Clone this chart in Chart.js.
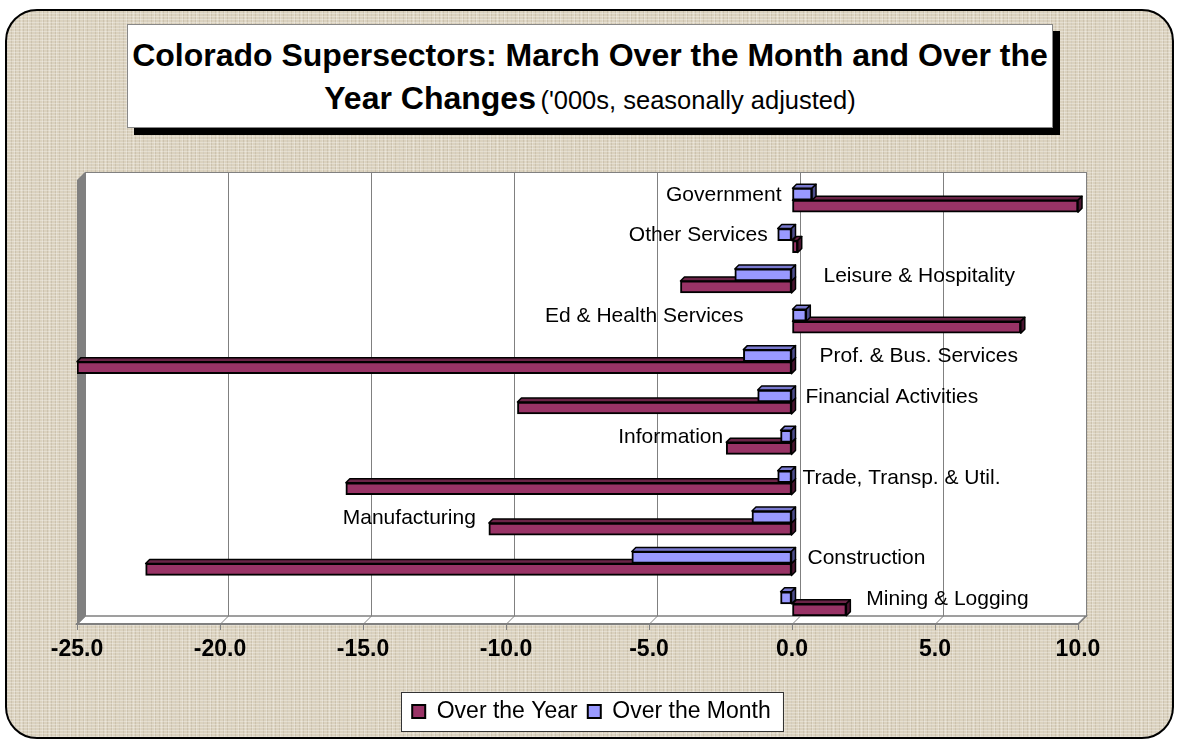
<!DOCTYPE html>
<html>
<head>
<meta charset="utf-8">
<script src="https://cdn.jsdelivr.net/npm/chart.js@4"></script>
<style>
  html, body { margin: 0; padding: 0; background: #fff; }
  body { width: 1177px; height: 739px; position: relative; overflow: hidden; font-family: "Liberation Sans", Arial, sans-serif; }
  #frame {
    position: absolute; left: 5px; top: 9px; width: 1165px; height: 726px;
    border: 2px solid #000; border-radius: 32px;
    background-color: #dbd2bf;
    background-image:
      repeating-linear-gradient(0deg, rgba(255,255,255,0.3) 0 1px, transparent 1px 3px),
      repeating-linear-gradient(90deg, rgba(110,95,70,0.14) 0 1px, transparent 1px 4px),
      repeating-linear-gradient(90deg, rgba(255,255,255,0.22) 0 1px, transparent 1px 7px);
  }
  #title {
    position: absolute; left: 127px; top: 24px; width: 924px; height: 102px;
    background: #fff; border: 1px solid #888;
    box-shadow: 7px 7px 0 #000;
    text-align: center; color: #000;
  }
  #title .l1 { position: absolute; left: 0; right: 0; top: 12px; font-weight: bold; font-size: 32px; white-space: nowrap; }
  #title .l2 { position: absolute; left: 0; right: 0; top: 55px; white-space: nowrap; }
  #title .l2 b { font-size: 32px; }
  #title .l2 span { font-size: 25.5px; }
  canvas { position: absolute; left: 0; top: 0; }
</style>
</head>
<body>
<div id="frame"></div>
<div id="title">
  <div class="l1">Colorado Supersectors: March Over the Month and Over the</div>
  <div class="l2"><b>Year Changes</b> <span>('000s, seasonally adjusted)</span></div>
</div>
<canvas id="chart" width="1177" height="739"></canvas>
<script>
// values, thousands of jobs
const categories = ['Government', 'Other Services', 'Leisure & Hospitality', 'Ed & Health Services',
    'Prof. & Bus. Services', 'Financial Activities', 'Information', 'Trade, Transp. & Util.',
    'Manufacturing', 'Construction', 'Mining & Logging'];
const overTheYear = [10.0, 0.2, -3.9, 8.0, -25.0, -9.6, -2.3, -15.6, -10.6, -22.6, 1.9];
const overTheMonth = [0.7, -0.5, -2.0, 0.5, -1.7, -1.2, -0.4, -0.5, -1.4, -5.6, -0.4];
const xTicks = [-25, -20, -15, -10, -5, 0, 5, 10];

// where each category name sits next to its bars (layout only)
const labelSide = ['left', 'left', 'right', 'left', 'right', 'right', 'left', 'right', 'left', 'right', 'right'];
const labelGap = [11, 10, 32, 49, 28, 14, 3, 11, 13, 16, 20];

const DEPTH = 8;      // wall depth
const BAR_DEPTH = 4;  // bar depth

const wallsPlugin = {
    id: 'walls',
    beforeDraw(chart) {
        const { ctx, chartArea: a, scales: { x } } = chart;
        ctx.save();
        // back wall
        ctx.fillStyle = '#fff';
        ctx.fillRect(a.left + DEPTH, a.top - DEPTH, a.right - a.left, a.bottom - a.top);
        ctx.strokeStyle = '#808080';
        ctx.lineWidth = 1;
        ctx.strokeRect(a.left + DEPTH + 0.5, a.top - DEPTH + 0.5, a.right - a.left, a.bottom - a.top);
        // floor
        ctx.beginPath();
        ctx.moveTo(a.left, a.bottom);
        ctx.lineTo(a.left + DEPTH, a.bottom - DEPTH);
        ctx.lineTo(a.right + DEPTH, a.bottom - DEPTH);
        ctx.lineTo(a.right, a.bottom);
        ctx.closePath();
        ctx.fillStyle = '#fff';
        ctx.fill();
        ctx.strokeStyle = '#808080';
        ctx.lineWidth = 1.5;
        ctx.stroke();
        // left wall
        ctx.beginPath();
        ctx.moveTo(a.left, a.top);
        ctx.lineTo(a.left + DEPTH, a.top - DEPTH);
        ctx.lineTo(a.left + DEPTH, a.bottom - DEPTH);
        ctx.lineTo(a.left, a.bottom);
        ctx.closePath();
        ctx.fillStyle = '#808080';
        ctx.fill();
        // gridlines on the back wall + slanted link to the front ticks
        ctx.strokeStyle = '#808080';
        ctx.lineWidth = 1;
        xTicks.forEach(v => {
            const px = Math.round(x.getPixelForValue(v)) + 0.5;
            ctx.beginPath();
            ctx.moveTo(px + DEPTH, a.top - DEPTH);
            ctx.lineTo(px + DEPTH, a.bottom - DEPTH);
            ctx.lineTo(px, a.bottom);
            ctx.stroke();
        });
        ctx.restore();
    }
};

const barDepthPlugin = {
    id: 'barDepth',
    beforeDatasetsDraw(chart) {
        const ctx = chart.ctx;
        const tops = ['#7a7ad0', '#6b2447'];
        const sides = ['#4d4d8c', '#4a1530'];
        ctx.save();
        ctx.strokeStyle = '#000';
        ctx.lineWidth = 1.5;
        ctx.lineJoin = 'round';
        for (let d = chart.data.datasets.length - 1; d >= 0; d--) {
            chart.getDatasetMeta(d).data.forEach(el => {
                const p = el.getProps(['x', 'y', 'base', 'height'], true);
                const l = Math.min(p.x, p.base), r = Math.max(p.x, p.base);
                const t = p.y - p.height / 2, b = p.y + p.height / 2;
                ctx.beginPath();
                ctx.moveTo(l, t);
                ctx.lineTo(l + BAR_DEPTH, t - BAR_DEPTH);
                ctx.lineTo(r + BAR_DEPTH, t - BAR_DEPTH);
                ctx.lineTo(r, t);
                ctx.closePath();
                ctx.fillStyle = tops[d];
                ctx.fill();
                ctx.stroke();
                ctx.beginPath();
                ctx.moveTo(r, t);
                ctx.lineTo(r + BAR_DEPTH, t - BAR_DEPTH);
                ctx.lineTo(r + BAR_DEPTH, b - BAR_DEPTH);
                ctx.lineTo(r, b);
                ctx.closePath();
                ctx.fillStyle = sides[d];
                ctx.fill();
                ctx.stroke();
            });
        }
        ctx.restore();
    }
};

const catLabelsPlugin = {
    id: 'catLabels',
    afterDatasetsDraw(chart) {
        const { ctx, scales: { y } } = chart;
        const metas = [chart.getDatasetMeta(0), chart.getDatasetMeta(1)];
        ctx.save();
        ctx.font = '21px "Liberation Sans", Arial, sans-serif';
        ctx.fillStyle = '#000';
        ctx.textBaseline = 'middle';
        categories.forEach((c, i) => {
            let lo = Infinity, hi = -Infinity;
            metas.forEach(m => {
                const p = m.data[i].getProps(['x', 'base'], true);
                lo = Math.min(lo, p.x, p.base);
                hi = Math.max(hi, p.x, p.base);
            });
            const cy = y.getPixelForValue(i) - 5;
            if (labelSide[i] === 'left') {
                ctx.textAlign = 'right';
                ctx.fillText(c, lo - labelGap[i], cy);
            } else {
                ctx.textAlign = 'left';
                ctx.fillText(c, hi + labelGap[i], cy);
            }
        });
        ctx.restore();
    }
};

const legendBoxPlugin = {
    id: 'legendBox',
    afterLayout(chart) {
        // nudge the legend to sit centred under the whole frame
        const lg = chart.legend;
        if (lg) { lg.left += 14; lg.right += 14; }
    },
    beforeDraw(chart) {
        const boxes = chart.legend && chart.legend.legendHitBoxes;
        if (!boxes || !boxes.length) return;
        const l = Math.min(...boxes.map(b => b.left)) - 11;
        const r = Math.max(...boxes.map(b => b.left + b.width)) + 12;
        const t = Math.min(...boxes.map(b => b.top)) - 8;
        const bt = Math.max(...boxes.map(b => b.top + b.height)) + 8;
        const ctx = chart.ctx;
        ctx.save();
        ctx.fillStyle = '#fff';
        ctx.fillRect(l, t, r - l, bt - t);
        ctx.strokeStyle = '#333';
        ctx.lineWidth = 1;
        ctx.strokeRect(Math.round(l) + 0.5, Math.round(t) + 0.5, Math.round(r - l), Math.round(bt - t));
        ctx.restore();
    }
};

new Chart(document.getElementById('chart'), {
    type: 'bar',
    data: {
        labels: categories,
        datasets: [
            { label: 'Over the Month', data: overTheMonth, backgroundColor: '#9999ff', borderColor: '#000', borderWidth: 2, borderSkipped: false, barThickness: 12 },
            { label: 'Over the Year', data: overTheYear, backgroundColor: '#993366', borderColor: '#000', borderWidth: 2, borderSkipped: false, barThickness: 12 }
        ]
    },
    options: {
        indexAxis: 'y',
        responsive: false,
        animation: false,
        devicePixelRatio: 1,
        layout: { padding: { left: 77, right: 99, top: 180, bottom: 6 } },
        scales: {
            x: {
                type: 'linear', min: -25, max: 10,
                afterBuildTicks: scale => { scale.ticks = xTicks.map(v => ({ value: v })); },
                afterFit: scale => { scale.height = 66; },
                ticks: {
                    callback: v => v.toFixed(1),
                    color: '#000',
                    font: { family: '"Liberation Sans", Arial, sans-serif', size: 23, weight: 'bold' },
                    padding: 6,
                    maxRotation: 0
                },
                grid: { drawOnChartArea: false, drawTicks: true, tickLength: 6, color: '#808080' },
                border: { display: true, color: '#808080', width: 2 }
            },
            y: { display: false }
        },
        plugins: {
            legend: {
                position: 'bottom',
                reverse: true,
                labels: {
                    boxWidth: 13, boxHeight: 13, padding: 10,
                    color: '#000',
                    font: { family: '"Liberation Sans", Arial, sans-serif', size: 23 }
                }
            },
            tooltip: { enabled: false }
        }
    },
    plugins: [legendBoxPlugin, wallsPlugin, barDepthPlugin, catLabelsPlugin]
});
</script>
</body>
</html>
